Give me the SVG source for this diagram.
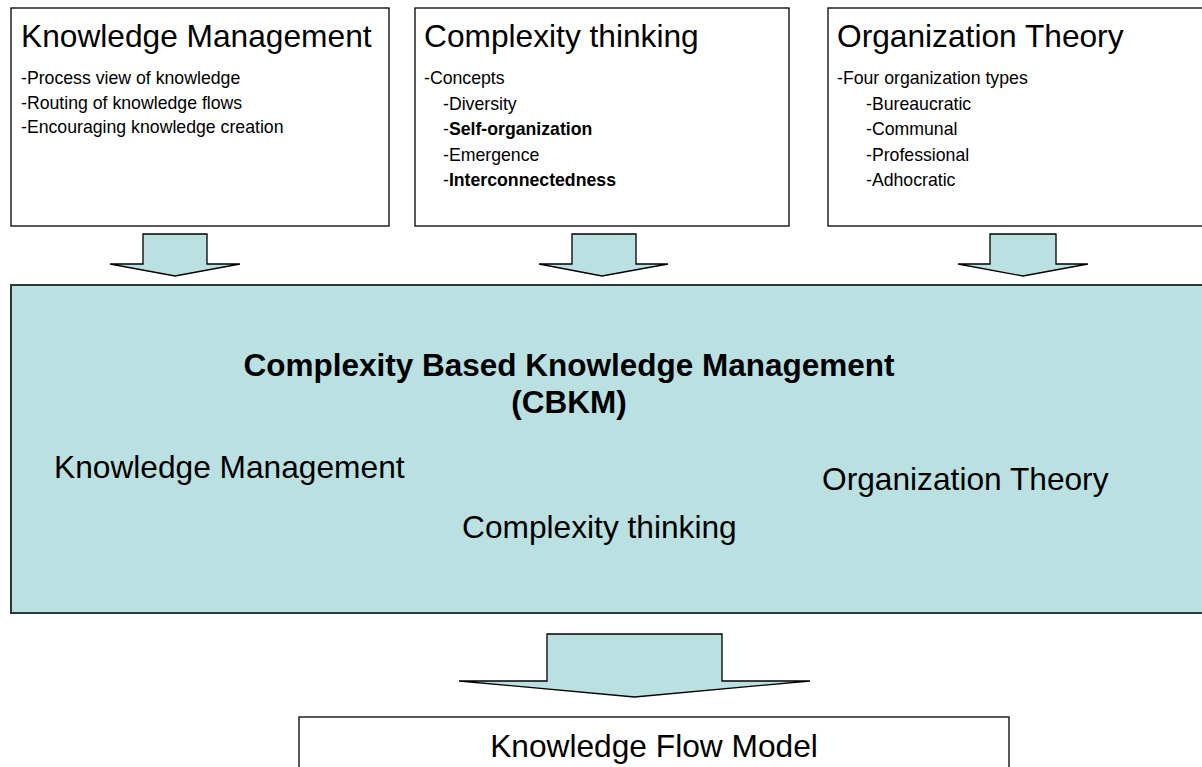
<svg xmlns="http://www.w3.org/2000/svg" width="1202" height="767" viewBox="0 0 1202 767">
  <style>
    .box { fill: #ffffff; stroke: #000000; stroke-width: 1.3; }
    .core { fill: #bae0e2; stroke: #2b3838; stroke-width: 2; }
    .arrow { fill: #bae0e2; stroke: #000000; stroke-width: 1.3; stroke-linejoin: miter; }
    text { font-family: "Liberation Sans", Arial, sans-serif; fill: #000000; }
    .head { font-size: 31.7px; }
    .item { font-size: 17.7px; }
    .bold { font-weight: bold; }
    .title { font-size: 31.5px; font-weight: bold; text-anchor: middle; }
  </style>

  <!-- Source disciplines -->
  <g id="knowledge-management">
    <rect class="box" x="11" y="8" width="378" height="218"/>
    <text class="head" x="21" y="47">Knowledge Management</text>
    <text class="item" x="21" y="84">-Process view of knowledge</text>
    <text class="item" x="21" y="108.5">-Routing of knowledge flows</text>
    <text class="item" x="21" y="133">-Encouraging knowledge creation</text>
  </g>

  <g id="complexity-thinking">
    <rect class="box" x="415" y="8" width="374" height="218"/>
    <text class="head" x="424" y="47">Complexity thinking</text>
    <text class="item" x="424" y="84">-Concepts</text>
    <text class="item" x="443" y="109.5">-Diversity</text>
    <text class="item" x="443" y="135">-<tspan class="bold">Self-organization</tspan></text>
    <text class="item" x="443" y="160.5">-Emergence</text>
    <text class="item" x="443" y="186">-<tspan class="bold">Interconnectedness</tspan></text>
  </g>

  <g id="organization-theory">
    <rect class="box" x="828" y="8" width="376" height="218"/>
    <text class="head" x="837" y="47">Organization Theory</text>
    <text class="item" x="837" y="84">-Four organization types</text>
    <text class="item" x="866" y="109.5">-Bureaucratic</text>
    <text class="item" x="866" y="135">-Communal</text>
    <text class="item" x="866" y="160.5">-Professional</text>
    <text class="item" x="866" y="186">-Adhocratic</text>
  </g>

  <!-- Combined framework -->
  <g id="cbkm">
    <rect class="core" x="11" y="285" width="1194" height="328"/>
    <text class="title" x="569" y="376">Complexity Based Knowledge Management</text>
    <text class="title" x="569" y="413">(CBKM)</text>
    <text class="head" x="54" y="478">Knowledge Management</text>
    <text class="head" x="822" y="490">Organization Theory</text>
    <text class="head" x="462" y="538">Complexity thinking</text>
  </g>

  <!-- Resulting model -->
  <g id="knowledge-flow-model">
    <rect class="box" x="299" y="717" width="710" height="60"/>
    <text class="head" x="654" y="757" text-anchor="middle">Knowledge Flow Model</text>
  </g>

  <!-- Block arrows -->
  <g id="connectors">
    <path class="arrow" d="M143,234 H207 V264 H240 L175,276 L110,264 H143 Z"/>
    <path class="arrow" d="M572,234 H636 V264 H668 L602,276 L539,264 H572 Z"/>
    <path class="arrow" d="M990,234 H1056 V264 H1088 L1023,276 L958,264 H990 Z"/>
    <path class="arrow" d="M547,634 H722 V681 H810 L634.5,697 L459,681 H547 Z"/>
  </g>
</svg>
